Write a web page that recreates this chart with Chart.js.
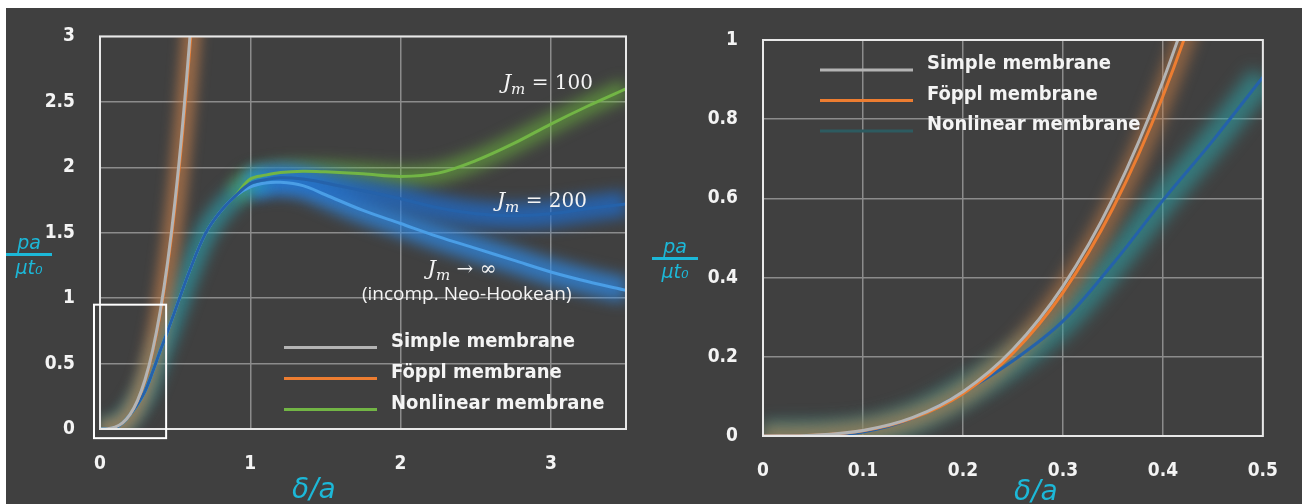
<!DOCTYPE html>
<html lang="en">
<head>
  <meta charset="UTF-8" />
  <title>Membrane pressure vs deflection</title>
  <script src="https://cdn.jsdelivr.net/npm/chart.js"></script>
  <style>
    body {
      margin: 0;
      width: 1302px;
      height: 504px;
      background: #ffffff;
      overflow: hidden;
      position: relative;
    }

    #panel {
      position: absolute;
      left: 6px;
      top: 8px;
      width: 1296px;
      height: 496px;
      background: #404040;
    }

    canvas {
      position: absolute;
      top: 0;
    }

    .hand {
      position: absolute;
      color: #1cb8d8;
      font-family: "DejaVu Sans", sans-serif;
      font-style: italic;
    }

    .frac {
      font-size: 19px;
      text-align: center;
      width: 46px;
      line-height: 20px;
    }

    .frac .bar {
      height: 3px;
      background: #1cb8d8;
      margin: 1px 0 1px 0;
    }

    .xlab {
      font-size: 28px;
    }
  </style>
</head>
<body>
  <div id="panel"></div>
  <canvas id="fullChart" width="650" height="504" style="left:0"></canvas>
  <canvas id="zoomChart" width="652" height="504" style="left:650px"></canvas>

  <div class="hand frac" style="left:6px; top:232px"><div>pa</div><div class="bar"></div><div>μt₀</div></div>
  <div class="hand frac" style="left:652px; top:236px"><div>pa</div><div class="bar"></div><div>μt₀</div></div>
  <div class="hand xlab" style="left:292px; top:472px">δ/a</div>
  <div class="hand xlab" style="left:1014px; top:474px">δ/a</div>

  <script>
    // simple + Föppl membrane (shared x)
    const smallX = [0, 0.05, 0.1, 0.15, 0.2, 0.25, 0.3, 0.35, 0.4, 0.45, 0.5, 0.55, 0.6, 0.65];
    const simpleY = [0, 0.002, 0.014, 0.047, 0.112, 0.219, 0.378, 0.6, 0.896, 1.276, 1.75, 2.33, 3.02, 3.84];
    const foepplY = [0, 0.0017, 0.013, 0.045, 0.107, 0.209, 0.362, 0.575, 0.858, 1.221, 1.675, 2.23, 2.894, 3.68];

    // nonlinear membrane: common rising part, then one tail per Jm
    const nlX = [0, 0.05, 0.1, 0.15, 0.2, 0.25, 0.3, 0.35, 0.4, 0.45, 0.5, 0.6, 0.7, 0.8, 0.9,
                 1.0, 1.1, 1.2, 1.35, 1.5, 1.75, 2.0, 2.25, 2.5, 2.75, 3.0, 3.25, 3.5];
    const nlRiseY = [0, 0.001, 0.01, 0.045, 0.11, 0.19, 0.29, 0.435, 0.595, 0.746, 0.906, 1.22, 1.49, 1.66, 1.78];
    const jm100Tail = [1.91, 1.94, 1.96, 1.97, 1.965, 1.95, 1.93, 1.955, 2.05, 2.18, 2.33, 2.47, 2.6];
    const jm200Tail = [1.875, 1.905, 1.92, 1.91, 1.88, 1.82, 1.76, 1.69, 1.645, 1.63, 1.645, 1.685, 1.72];
    const jmInfTail = [1.85, 1.88, 1.885, 1.86, 1.79, 1.67, 1.57, 1.47, 1.38, 1.29, 1.2, 1.125, 1.06];

    const legendLabels = ['Simple membrane', 'Föppl membrane', 'Nonlinear membrane'];
    const boxX = [-0.04, 0.44];
    const boxY = [-0.07, 0.95];

    const jm100Y = nlRiseY.concat(jm100Tail);
    const jm200Y = nlRiseY.concat(jm200Tail);
    const jmInfY = nlRiseY.concat(jmInfTail);

    const pts = (xs, ys) => xs.map((x, i) => ({ x: x, y: ys[i] }));

    const tickFont = { family: '"DejaVu Sans Condensed", "Liberation Sans Narrow", "DejaVu Sans", sans-serif', size: 19, weight: 'bold' };
    const legendFont = 'bold 20px "DejaVu Sans Condensed", "Liberation Sans Narrow", "DejaVu Sans", sans-serif';
    const mathFont = '"DejaVu Serif", "Liberation Serif", serif';
    const fmt = v => String(Number(v.toFixed(2)));

    function line(data, color, width) {
      return { data: data, borderColor: color, borderWidth: width, pointRadius: 0, tension: 0.35, fill: false };
    }

    function glow(data, color, width, blur) {
      return { data: data, borderColor: color, borderWidth: width, pointRadius: 0, tension: 0.35, fill: false, glow: blur };
    }

    // blur the halo datasets
    const glowPlugin = {
      id: 'glow',
      beforeDatasetDraw(chart, args) {
        const ds = chart.data.datasets[args.index];
        if (ds.glow) {
          chart.ctx.save();
          chart.ctx.filter = 'blur(' + ds.glow + 'px)';
        }
      },
      afterDatasetDraw(chart, args) {
        if (chart.data.datasets[args.index].glow) chart.ctx.restore();
      }
    };

    function drawNote(ctx, px, py, note) {
      const parts = [
        { t: 'J', f: 'italic 21px ' + mathFont, dy: 0 },
        { t: 'm', f: 'italic 15px ' + mathFont, dy: 5 },
        { t: note.rest, f: '20px ' + mathFont, dy: 0 }
      ];
      let w = 0;
      parts.forEach(p => { ctx.font = p.f; p.w = ctx.measureText(p.t).width; w += p.w; });
      let cx = note.align === 'right' ? px - w : px;
      ctx.fillStyle = '#f4f4f4';
      ctx.textAlign = 'left';
      ctx.textBaseline = 'alphabetic';
      parts.forEach(p => { ctx.font = p.f; ctx.fillText(p.t, cx, py + p.dy); cx += p.w; });
    }

    const decoPlugin = {
      id: 'deco',
      afterDatasetsDraw(chart, args, opts) {
        const ctx = chart.ctx;
        const a = chart.chartArea;
        const xs = chart.scales.x;
        const ys = chart.scales.y;
        ctx.save();
        ctx.strokeStyle = '#e8e8e8';
        ctx.lineWidth = 2;
        ctx.strokeRect(a.left, a.top, a.right - a.left, a.bottom - a.top);

        if (opts.box) {
          const x0 = xs.getPixelForValue(opts.box.x[0]);
          const x1 = xs.getPixelForValue(opts.box.x[1]);
          const y0 = ys.getPixelForValue(opts.box.y[1]);
          const y1 = ys.getPixelForValue(opts.box.y[0]);
          ctx.strokeStyle = '#ffffff';
          ctx.strokeRect(x0, y0, x1 - x0, y1 - y0);
        }

        (opts.notes || []).forEach(n => drawNote(ctx, xs.getPixelForValue(n.x), ys.getPixelForValue(n.y), n));

        if (opts.caption) {
          ctx.font = '19px "Open Sans", "DejaVu Sans", sans-serif';
          ctx.fillStyle = '#f4f4f4';
          ctx.textAlign = 'center';
          ctx.textBaseline = 'alphabetic';
          ctx.fillText(opts.caption.text, xs.getPixelForValue(opts.caption.x), ys.getPixelForValue(opts.caption.y));
        }

        const lg = opts.legend;
        lg.colors.forEach((c, i) => {
          const ly = a.top + lg.top + i * lg.gap;
          const lx = a.left + lg.left;
          ctx.strokeStyle = c;
          ctx.lineWidth = 3;
          ctx.beginPath();
          ctx.moveTo(lx, ly);
          ctx.lineTo(lx + 93, ly);
          ctx.stroke();
          ctx.font = legendFont;
          ctx.fillStyle = '#f4f4f4';
          ctx.textAlign = 'left';
          ctx.textBaseline = 'middle';
          ctx.fillText(legendLabels[i], lx + 107, ly - 6);
        });
        ctx.restore();
      }
    };

    function makeOptions(xr, yr, pad, yWidth, xHeight, deco) {
      return {
        responsive: false,
        animation: false,
        layout: { padding: pad },
        plugins: { legend: { display: false }, tooltip: { enabled: false }, deco: deco },
        scales: {
          x: {
            type: 'linear', min: xr[0], max: xr[1],
            ticks: { stepSize: xr[2], includeBounds: false, color: '#f4f4f4', font: tickFont, padding: 24, maxRotation: 0, callback: fmt },
            grid: { color: '#8c8c8c', lineWidth: 1.5, drawTicks: false },
            border: { display: false },
            afterFit: s => { s.height = xHeight; }
          },
          y: {
            type: 'linear', min: yr[0], max: yr[1],
            ticks: { stepSize: yr[2], color: '#f4f4f4', font: tickFont, padding: 25, callback: fmt },
            grid: { color: '#8c8c8c', lineWidth: 1.5, drawTicks: false },
            border: { display: false },
            afterFit: s => { s.width = yWidth; }
          }
        }
      };
    }

    new Chart(document.getElementById('fullChart'), {
      type: 'line',
      data: {
        datasets: [
          line(pts(smallX, simpleY), '#b4b4b4', 3),
          line(pts(smallX, foepplY), '#ed7d31', 2),
          line(pts(nlX, jm200Y), '#2562aa', 3),
          line(pts(nlX, jmInfY), '#4a9ee6', 3),
          line(pts(nlX, jm100Y), '#72b545', 3),
          glow(pts(smallX, foepplY), 'rgba(205,130,75,0.6)', 20, 6),
          glow(pts(nlX.slice(0, 17), jm200Y.slice(0, 17)), 'rgba(40,165,180,0.6)', 22, 7),
          glow(pts(nlX.slice(15), jm200Tail), 'rgba(30,110,210,0.7)', 26, 7),
          glow(pts(nlX.slice(15), jmInfTail), 'rgba(45,140,235,0.7)', 26, 7),
          glow(pts(nlX.slice(14), jm100Y.slice(14)), 'rgba(110,185,60,0.55)', 20, 7)
        ]
      },
      options: makeOptions([0, 3.5, 1], [0, 3, 0.5], { top: 33, right: 24, left: 0, bottom: 0 }, 100, 75, {
        box: { x: boxX, y: boxY },
        notes: [
          { x: 3.28, y: 2.6, align: 'right', rest: ' = 100' },
          { x: 3.24, y: 1.7, align: 'right', rest: ' = 200' },
          { x: 2.18, y: 1.18, align: 'left', rest: ' → ∞' }
        ],
        caption: { text: '(incomp. Neo-Hookean)', x: 2.44, y: 0.985 },
        legend: { colors: ['#b4b4b4', '#ed7d31', '#72b545'], left: 184, top: 311, gap: 31 }
      })
    , plugins: [glowPlugin, decoPlugin] });

    new Chart(document.getElementById('zoomChart'), {
      type: 'line',
      data: {
        datasets: [
          line(pts(smallX, simpleY), '#b4b4b4', 3),
          line(pts(smallX, foepplY), '#ed7d31', 3),
          line(pts(nlX, jm200Y), '#2562aa', 3),
          glow(pts(smallX, foepplY), 'rgba(200,125,70,0.55)', 22, 7),
          glow(pts(nlX, jm200Y), 'rgba(45,160,165,0.6)', 28, 8)
        ]
      },
      options: makeOptions([0, 0.5, 0.1], [0, 1, 0.2], { top: 40, right: 22, left: 0, bottom: 0 }, 113, 68, {
        legend: { colors: ['#b4b4b4', '#ed7d31', '#2d5b60'], left: 57, top: 30, gap: 30.5 }
      })
    , plugins: [glowPlugin, decoPlugin] });
  </script>
</body>
</html>
